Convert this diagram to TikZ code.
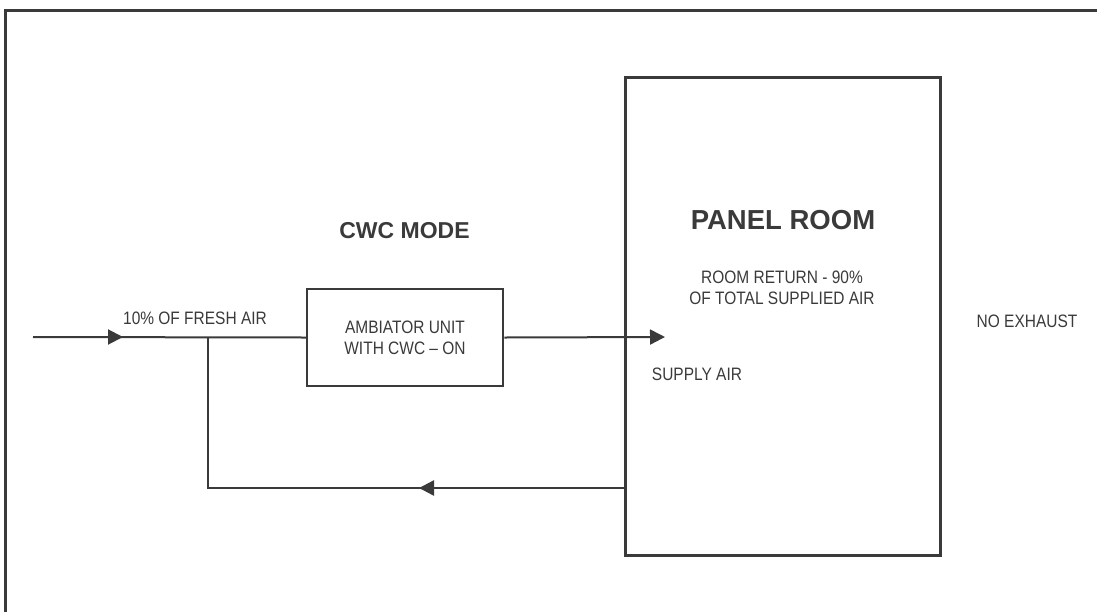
\documentclass[tikz,border=0pt]{standalone}
\usepackage{fontspec}
\setmainfont{Liberation Sans}
\newfontfamily\narrowsans[FakeStretch=0.86,Ligatures=TeX]{Liberation Sans}
\usetikzlibrary{arrows.meta,positioning}
\definecolor{inkgrey}{HTML}{3A3A3A}
\tikzset{>={Triangle[length=15pt,width=15pt]}}

\begin{document}
\begin{tikzpicture}[x=1pt,y=-1pt,
    every node/.style={inner sep=0pt,text=inkgrey},
    label text/.style={font=\narrowsans\fontsize{18}{21}\selectfont,align=center},
    title text/.style={font=\bfseries\fontsize{23}{27}\selectfont},
    unit box/.style={draw=inkgrey,line width=2.5pt,minimum width=196pt,minimum height=97pt},
    room box/.style={draw=inkgrey,line width=3pt,minimum width=315pt,minimum height=478pt},
    duct/.style={draw=inkgrey,line width=2pt},
    return duct/.style={draw=inkgrey,line width=1.3pt}]
  \clip (0,0) rectangle (1097,611);
  % frame
  \draw[inkgrey,line width=3pt] (5,10) rectangle (1120,640);
  % boxes
  \node[unit box] (ambiator) at (405,337.5) {};
  \node[label text] at (ambiator) {AMBIATOR UNIT\\WITH CWC – ON};
  \node[room box] (room) at (782.5,316) {};
  % texts
  \node[title text] (mode) at (404.5,231) {CWC MODE};
  \node[title text,font=\bfseries\fontsize{27.5}{32}\selectfont] (roomname) at (783,220) {PANEL ROOM};
  \node[label text] (roomreturn) at (782,288) {ROOM RETURN - 90\%\\OF TOTAL SUPPLIED AIR};
  \node[label text] (fresh) at (195,318) {10\% OF FRESH AIR};
  \node[label text] (supply) at (697,374) {SUPPLY AIR};
  \node[label text] (exhaust) at (1027,321.5) {NO EXHAUST};
  % duct lines
  \coordinate (inlet) at (33,337);
  \coordinate (inlettip) at (123,337);
  \coordinate (branch) at (208,337);
  \coordinate (supplytip) at (665,337);
  \coordinate (corner) at (208,488);
  \coordinate (returnout) at (room.west |- corner);
  \coordinate (returntail) at (511,488);
  \coordinate (returntip) at (419,488);
  \draw[duct] (inlet) -- (ambiator.west);
  \draw[duct,->] (inlet) -- (inlettip);
  \draw[duct,->] (ambiator.east) -- (supplytip);
  \draw[return duct] (returnout) -- (corner) -- (branch);
  \draw[draw=inkgrey,line width=2.5pt,->] (returntail) -- (returntip);
\end{tikzpicture}
\end{document}
